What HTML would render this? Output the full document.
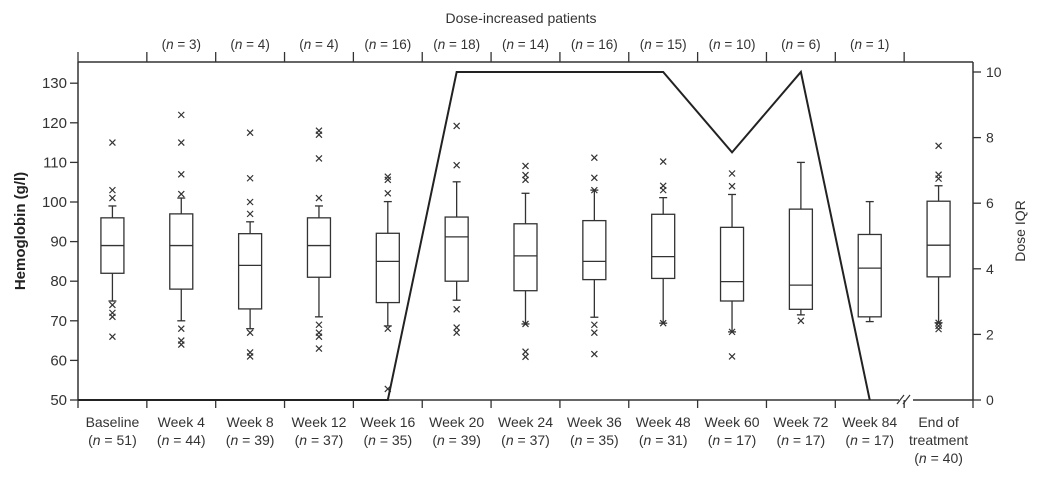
<!DOCTYPE html>
<html><head><meta charset="utf-8"><style>
html,body{margin:0;padding:0;background:#fff;}
svg{display:block;font-family:"Liberation Sans",sans-serif;}
</style></head><body>
<svg id="chart" width="1041" height="477">
<g id="axes"></g>
<g id="marks"></g>
</svg>
<script>
const categories = ["Baseline","Week 4","Week 8","Week 12","Week 16","Week 20","Week 24","Week 36","Week 48","Week 60","Week 72","Week 84","End of|treatment"];
const nLabels = [51,44,39,37,35,39,37,35,31,17,17,17,40];
const doseIncreasedN = [null,3,4,4,16,18,14,16,15,10,6,1,null];
const whiskerLow = [75,70,68,71,68.7,75.2,69.2,70.9,69.4,67.2,71.5,69.8,69.5];
const q1 = [82,78,73,81,74.6,80,77.6,80.4,80.7,75,72.9,71,81.1];
const median = [89,89,84,89,85,91.2,86.4,85,86.2,79.9,79,83.3,89.1];
const q3 = [96,97,92,96,92.1,96.2,94.5,95.3,96.9,93.6,98.2,91.8,100.2];
const whiskerHigh = [99,101,95,99,100.1,105.1,102.2,103,101.1,101.9,110,100.1,104.1];
const outliers = [
 [115,103,101,74,72,71,66],
 [122,115,107,102,68,65,64],
 [117.5,106,100,97,67,62,61],
 [118,117,111,101,69,67,66,63],
 [106.4,105.6,102.2,68,52.8],
 [119.2,109.3,72.9,68.3,67],
 [109.1,106.8,105.6,69.2,62.2,60.9],
 [111.2,106.1,103,69,67,61.6],
 [110.2,104.1,103,69.4],
 [107.2,104,67.2,61],
 [70],
 [],
 [114.2,106.9,105.9,69.5,68.7,67.9]
];
const doseIQR = [0,0,0,0,0,10,10,10,10,7.55,10,0,null];
const leftTicks = [50,60,70,80,90,100,110,120,130];
const rightTicks = [0,2,4,6,8,10];

const NS="http://www.w3.org/2000/svg";
const X0=78,X1=973,YB=400,YT=62;
const step=(X1-X0)/categories.length;
const cx=i=>X0+step*(i+0.5);
const yL=v=>YB-(v-50)*3.96;
const yR=v=>YB-v*32.8;
const axes=document.getElementById('axes'), marks=document.getElementById('marks');
function mk(tag,attrs,parent,text){const e=document.createElementNS(NS,tag);for(const k in attrs)e.setAttribute(k,attrs[k]);if(text!==undefined)e.textContent=text;parent.appendChild(e);return e;}
const ln={stroke:"#333","stroke-width":1.3,fill:"none"};
function line(x1,y1,x2,y2,p,w){return mk('line',Object.assign({},ln,{x1,y1,x2,y2,"stroke-width":w||1.3}),p);}
function nText(x,y,n,size,parent){
  const t=mk('text',{x:x,y:y,"text-anchor":"middle","font-size":size,fill:"#333"},parent);
  mk('tspan',{},t,"(");
  mk('tspan',{"font-style":"italic"},t,"n");
  mk('tspan',{},t," = "+n+")");
  return t;
}

let e;
e=line(X0,YT,X1,YT,axes,1.5);


e=line(X0,YT,X0,YB,axes,1.5);


e=line(X1,YT,X1,YB,axes,1.5);


e=line(X0,YB,899,YB,axes,1.5);


line(913,YB,X1,YB,axes,1.5);
line(897,404,904,395,axes,1.2);line(903,404,910,395,axes,1.2);

for(let b=0;b<=categories.length;b++){
  const x=X0+step*b;
  line(x,YB,x,408,axes);
  if(b<categories.length) line(x,YT,x,52,axes);
}
leftTicks.forEach(v=>{
  line(X0-8,yL(v),X0,yL(v),axes);
  const t=mk('text',{x:X0-11,y:yL(v)+5,"text-anchor":"end","font-size":15,fill:"#333"},axes,v);
  
  
});
rightTicks.forEach(v=>{
  line(X1,yR(v),X1+8,yR(v),axes);
  const t=mk('text',{x:X1+13,y:yR(v)+5,"font-size":14,fill:"#333"},axes,v);
  
  
});
e=mk('text',{x:0,y:0,transform:"translate(25,231) rotate(-90)","text-anchor":"middle","font-size":15,"font-weight":"bold",fill:"#222"},axes,"Hemoglobin (g/l)");


e=mk('text',{x:0,y:0,transform:"translate(1025,231) rotate(-90)","text-anchor":"middle","font-size":14,fill:"#333"},axes,"Dose IQR");


e=mk('text',{x:521,y:23,"text-anchor":"middle","font-size":14,fill:"#333"},axes,"Dose-increased patients");



categories.forEach((c,i)=>{
  const parts=c.split('|');
  parts.forEach((p,j)=>{
    const t=mk('text',{x:cx(i),y:427+j*18,"text-anchor":"middle","font-size":14,fill:"#333"},axes,p);
    
    
  });
  const nt=nText(cx(i),427+parts.length*18,nLabels[i],14,axes);
  
  
  if(doseIncreasedN[i]!==null){
    const t=nText(cx(i),49,doseIncreasedN[i],13.5,axes);
    
    
  }
});

categories.forEach((c,i)=>{
  const g=mk('g',{},marks);
  
  
  const x=cx(i),hw=11.5;
  line(x,yL(whiskerHigh[i]),x,yL(q3[i]),g);
  line(x,yL(q1[i]),x,yL(whiskerLow[i]),g);
  line(x-4,yL(whiskerHigh[i]),x+4,yL(whiskerHigh[i]),g);
  line(x-4,yL(whiskerLow[i]),x+4,yL(whiskerLow[i]),g);
  mk('rect',Object.assign({},ln,{x:x-hw,y:yL(q3[i]),width:2*hw,height:yL(q1[i])-yL(q3[i])}),g);
  line(x-hw,yL(median[i]),x+hw,yL(median[i]),g);
  outliers[i].forEach(v=>{
    const o=mk('g',{},g);
    
    
    const y=yL(v);
    line(x-3,y-3,x+3,y+3,o,1.2);line(x-3,y+3,x+3,y-3,o,1.2);
  });
});

let pts=[[X0,yR(doseIQR[0])]];
doseIQR.forEach((d,i)=>{if(d!==null)pts.push([cx(i),yR(d)]);});
e=mk('polyline',{points:pts.map(p=>p.join(',')).join(' '),fill:"none",stroke:"#222","stroke-width":2},marks);


</script>
</body></html>
